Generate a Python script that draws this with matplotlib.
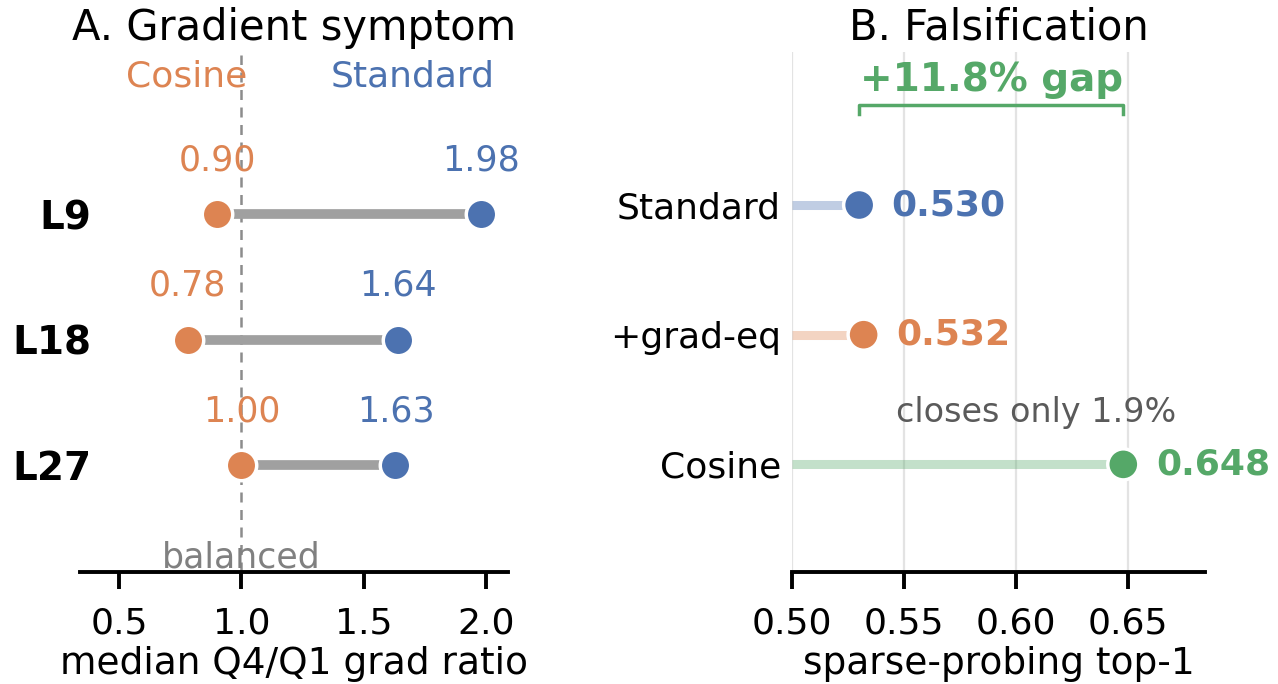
import matplotlib
matplotlib.use("Agg")
import matplotlib.pyplot as plt

# Panel A data
layers = ["L9", "L18", "L27"]
cosine_ratio = [0.90, 0.78, 1.00]
standard_ratio = [1.98, 1.64, 1.63]

# Panel B data
methods = ["Standard", "+grad-eq", "Cosine"]
probe_top1 = [0.530, 0.532, 0.648]

BLUE = "#4C72B0"
ORANGE = "#DD8452"
GREEN = "#55A868"
method_colors = [BLUE, ORANGE, GREEN]

W, H = 1278, 684
fig = plt.figure(figsize=(W / 100, H / 100), dpi=100)


def px_axes(x0, x1, y0, y1):
    return fig.add_axes([x0 / W, 1 - y1 / H, (x1 - x0) / W, (y1 - y0) / H])


def style_axis(ax):
    for s in ["top", "right", "left"]:
        ax.spines[s].set_visible(False)
    ax.spines["bottom"].set_linewidth(2.8)
    ax.tick_params(axis="x", length=12, width=2.8, labelsize=26, pad=13)
    ax.tick_params(axis="y", length=0)


# ---- A. Gradient symptom ----
axA = px_axes(80, 508, 55, 572)
style_axis(axA)
ypos = list(range(len(layers)))
axA.axvline(1.0, color="#8c8c8c", ls="--", lw=1.8, zorder=1, dashes=(4, 3))
for i in ypos:
    axA.plot([cosine_ratio[i], standard_ratio[i]], [i, i], color="#a0a0a0",
             lw=7, solid_capstyle="butt", zorder=2)
axA.scatter(cosine_ratio, ypos, s=480, color=ORANGE, edgecolor="white", lw=2.5, zorder=3)
axA.scatter(standard_ratio, ypos, s=480, color=BLUE, edgecolor="white", lw=2.5, zorder=3)
for i in ypos:
    axA.text(cosine_ratio[i], i - 0.43, f"{cosine_ratio[i]:.2f}", color=ORANGE,
             ha="center", va="center", fontsize=25)
    axA.text(standard_ratio[i], i - 0.43, f"{standard_ratio[i]:.2f}", color=BLUE,
             ha="center", va="center", fontsize=25)
axA.text(0.775, -1.1, "Cosine", color=ORANGE, ha="center", va="center", fontsize=26)
axA.text(1.70, -1.1, "Standard", color=BLUE, ha="center", va="center", fontsize=26)
axA.text(1.0, 2.87, "balanced", color="#808080", ha="center", va="bottom", fontsize=25)
axA.set_yticks(ypos)
axA.set_yticklabels(layers, fontsize=28, fontweight="bold")
axA.tick_params(axis="y", pad=-8)
axA.set_xticks([0.5, 1.0, 1.5, 2.0])
axA.set_xlim(0.34, 2.09)
axA.set_ylim(2.85, -1.27)
axA.set_xlabel("median Q4/Q1 grad ratio", fontsize=27, labelpad=4)
axA.set_title("A. Gradient symptom", fontsize=30, pad=11)

# ---- B. Falsification ----
axB = px_axes(792, 1205, 52, 572)
style_axis(axB)
xmin = 0.50
yB = list(range(len(methods)))
axB.set_xticks([0.50, 0.55, 0.60, 0.65])
axB.grid(axis="x", color="#e3e3e3", lw=1.6, zorder=0)
axB.set_axisbelow(True)
for i in yB:
    axB.plot([xmin, probe_top1[i]], [i, i], color=method_colors[i], alpha=0.35,
             lw=6.5, solid_capstyle="butt", zorder=2)
    axB.text(probe_top1[i] + 0.0145, i, f"{probe_top1[i]:.3f}", color=method_colors[i],
             ha="left", va="center", fontsize=26, fontweight="bold")
axB.scatter(probe_top1, yB, s=500, color=method_colors, edgecolor="white", lw=2.5, zorder=3)

# gap bracket
gap = probe_top1[2] - probe_top1[0]
yb = -0.77
axB.plot([probe_top1[0], probe_top1[0], probe_top1[2], probe_top1[2]],
         [yb + 0.07, yb, yb, yb + 0.07], color=GREEN, lw=2.5, zorder=3)
axB.text((probe_top1[0] + probe_top1[2]) / 2, -0.965, f"+{gap * 100:.1f}% gap",
         color=GREEN, ha="center", va="center", fontsize=28, fontweight="bold")
axB.text(0.609, 1.6, "closes only 1.9%", color="#5a5a5a", ha="center", va="center",
         fontsize=24)

axB.set_yticks(yB)
axB.set_yticklabels(methods, fontsize=26)
axB.tick_params(axis="y", pad=8)
axB.set_xlim(0.50, 0.6845)
axB.set_ylim(2.83, -1.18)
axB.set_xlabel("sparse-probing top-1", fontsize=27, labelpad=4)
axB.set_title("B. Falsification", fontsize=30, pad=9)

fig.savefig("out.png", dpi=100)
